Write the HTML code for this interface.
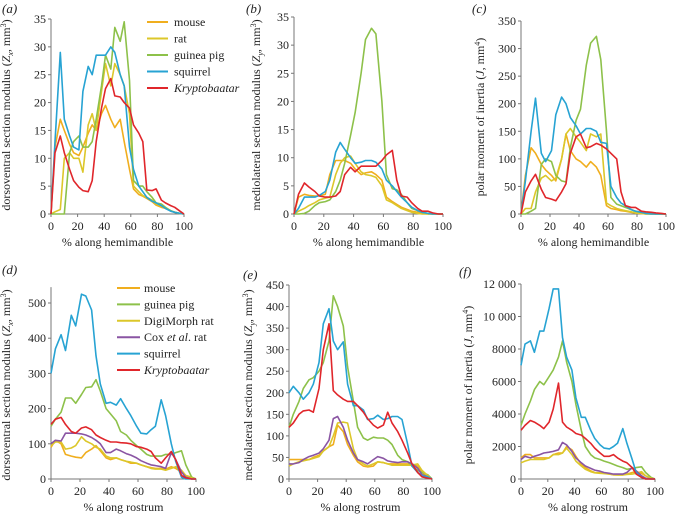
<!DOCTYPE html>
<html><head><meta charset="utf-8"><style>
html,body{margin:0;padding:0;background:#fff}
svg{display:block;font-family:"Liberation Serif","DejaVu Serif",serif}
svg text{font-family:"Liberation Serif","DejaVu Serif",serif}
</style></head><body>
<svg id="c" width="675" height="514" viewBox="0 0 675 514" font-family="Liberation Serif, DejaVu Serif, serif"></svg>
<script>
const X = [0,3,7,10,14,17,21,24,28,31,34,38,41,45,48,52,55,59,62,66,69,72,76,79,83,86,90,93,97,100];
// panel a
const aMouse=[0,12,17,15,12.5,11,10.5,12,14.5,16,15,18,19.5,17,15.5,17,13,8,4.5,3.5,3.2,2.8,2.2,1.6,1.2,1,0.6,0.3,0.1,0];
const aRat=[0,0.4,0.8,10,11,10,10,7.5,16,18,15,22,27,23,27,25,23,18,5,4,3.3,3,2.5,1.8,1.5,1,0.6,0.3,0.1,0];
const aGuinea=[0,0,0,0,11,13,14,12,12,13,17,23,28.5,26,33.5,31,34.5,24,6,5,5,4,3,2,1.8,1.2,0.6,0.3,0.1,0];
const aSquirrel=[0,13,29,17,14,12,11.5,22,26.5,25,28.5,28.5,28.5,30,29,25,23,12,8,5,4,3,2.3,2,1.5,1,0.5,0.3,0.1,0];
const aKryp=[0,11,14,11,8,6,4.8,4.2,4,6,13,19,22.5,24.3,21.2,21,20,19,16,14.5,13,4.3,4.2,4.5,2.5,2,1.5,1.2,0.5,0];
// panel b
const bMouse=[0,3,3.5,3.3,3.2,3.2,3.5,7,9.5,9.5,9.5,9,8,7,7.3,7.5,7,6,3,2.2,1.7,1.2,0.8,0.5,0.3,0.1,0,0,0,0];
const bRat=[0,0.5,1,1.5,2,2.5,2.8,3,7,9,10,10.3,9,7.5,7,6.8,6.5,5,2.5,2,1.5,1,0.6,0.3,0.1,0,0,0,0,0];
const bGuinea=[0,0,0.1,0.5,1.5,2,2.2,2.5,4,6,9,14,18,25,31,33,32,20,7,4.5,4.3,3.5,2,1,0.6,0.3,0.1,0,0,0];
const bSquirrel=[0,1,3,3,3,3.3,4,6,11,12.7,11.5,10,9,9.2,9.5,9.5,9.2,8,6,5,4,3,2,1.2,0.6,0.3,0.1,0,0,0];
const bKryp=[0,3.5,5.5,4.8,4,3.2,3,3,3.2,4,7,8.3,7.5,8.5,8.5,8.5,8.5,9.5,10.5,11.3,6,3.2,3,2,1,0.5,0.5,0.2,0,0];
// panel c
const cMouse=[0,70,120,110,90,80,70,60,100,145,115,100,95,85,95,85,70,15,10,8,6,5,3,2,1,0,0,0,0,0];
const cRat=[0,10,10,40,65,70,60,65,100,145,155,140,130,115,145,140,145,20,15,10,8,6,4,2,1,0,0,0,0,0];
const cGuinea=[0,0,5,10,90,100,95,70,60,58,120,170,190,270,310,322,280,150,30,18,15,12,8,5,3,2,1,0,0,0];
const cSquirrel=[0,60,150,210,110,95,115,180,212,200,175,160,145,155,155,150,130,128,50,30,20,15,8,5,3,1,0,0,0,0];
const cKryp=[0,40,60,72,45,30,27,24,40,55,110,140,145,120,122,128,125,118,110,100,40,15,12,12,5,4,3,2,1,0];
// panel d
const dMouse=[90,110,100,70,65,62,60,75,85,95,80,60,55,60,55,50,45,45,40,35,32,30,30,28,35,30,20,10,5,0];
const dGuinea=[150,170,190,230,230,215,240,260,262,282,250,200,185,165,135,125,110,95,85,70,65,65,65,70,70,75,80,40,5,0];
const dDigi=[95,105,105,85,88,95,120,108,100,90,85,65,60,60,55,50,48,45,40,35,30,28,28,25,30,35,25,10,3,0];
const dCox=[100,110,108,130,130,130,128,125,118,110,100,75,75,85,80,72,68,60,52,45,40,38,35,30,75,55,20,5,0,0];
const dSquirrel=[300,370,410,365,465,435,525,520,480,350,270,215,218,210,228,200,180,150,130,128,140,150,225,180,100,50,5,0,0,0];
const dKryp=[155,170,175,155,135,130,145,148,140,125,118,110,105,105,103,102,100,92,90,85,78,60,45,60,78,55,10,3,0,0];
// panel e
const eMouse=[45,45,45,45,45,50,55,65,75,80,125,110,80,55,40,30,28,30,40,38,35,35,35,35,35,35,30,15,5,0];
const eGuinea=[120,150,180,210,230,235,250,270,320,425,400,355,260,180,120,95,90,97,95,95,90,80,55,45,40,30,20,15,10,0];
const eDigi=[30,35,40,42,45,48,52,65,75,100,130,132,130,70,45,35,30,35,40,38,35,32,32,32,32,32,35,20,8,0];
const eCox=[35,35,38,45,52,55,60,70,90,140,145,120,90,60,45,40,35,45,52,48,42,40,38,40,40,35,25,10,5,0];
const eSquirrel=[200,215,200,185,200,220,270,360,395,320,300,318,220,170,170,160,138,140,148,138,140,145,145,138,80,30,15,8,5,0];
const eKryp=[120,130,150,158,160,155,210,300,360,205,195,185,180,180,170,155,140,125,118,125,155,130,110,90,60,35,15,5,2,0];
// panel f
const fMouse=[1300,1500,1500,1300,1300,1300,1300,1500,1600,1600,2000,1800,1400,900,700,500,400,380,350,300,250,250,250,300,400,450,350,200,50,0];
const fGuinea=[3300,4000,4800,5500,6000,5800,6300,6700,7500,8500,7200,6000,4600,3000,2000,1500,1300,1200,1100,1000,900,800,700,600,650,700,750,400,100,0];
const fDigi=[1000,1100,1200,1200,1200,1200,1300,1500,1500,1600,1900,1500,1100,800,600,450,380,350,330,300,270,250,250,280,300,350,450,200,50,0];
const fCox=[1200,1400,1300,1400,1500,1600,1650,1700,1800,2250,2100,1700,1300,1000,800,650,550,480,400,350,300,300,300,400,700,500,200,50,0,0];
const fSquirrel=[7000,8300,8500,7800,9100,9100,10500,11700,11700,8700,7500,6700,5000,3800,3800,3000,2500,2100,1900,1850,2000,2200,3100,2200,1200,400,100,0,0,0];
const fKryp=[3000,3300,3600,3500,3300,3100,3500,4300,5900,3500,3200,3000,2800,2700,2500,2200,1900,1600,1400,1400,1500,1300,1100,1000,700,300,100,0,0,0];
const xTicks=[0,20,40,60,80,100];
const ticksA=[0,5,10,15,20,25,30,35];
const ticksC=[0,50,100,150,200,250,300,350];
const ticksD=[0,100,200,300,400,500];
const ticksE=[0,50,100,150,200,250,300,350,400,450];
const ticksF=[0,2000,4000,6000,8000,10000,12000];
const tickLabelsF=["0","2000","4000","6000","8000","10 000","12 000"];

const FONT='"Liberation Serif","DejaVu Serif",serif';
const C={mouse:"#f0ae1e",rat:"#dcc72a",guinea:"#8dc14a",squirrel:"#27a3d3",kryp:"#e0262b",cox:"#8a55a3"};
const svg=document.getElementById('c');
const NS="http://www.w3.org/2000/svg";
function mk(tag,attrs,parent){const e=document.createElementNS(NS,tag);for(const k in attrs)e.setAttribute(k,attrs[k]);if(tag==='text'){e.setAttribute('font-family',FONT);e.style.fontFamily=FONT;}(parent||svg).appendChild(e);return e;}

function panel(id,p){
  const g=mk('g',{});
  
  
  const sx=v=>p.x0+(p.x1-p.x0)*v/100;
  const sy=v=>p.y0-(p.y0-p.yT)*v/p.tmax;
  const topY=p.axisTop!==undefined?sy(p.axisTop):sy(p.tmax);
  const ax=mk('line',{x1:p.x0,y1:p.y0,x2:p.x0,y2:topY,stroke:"#777","stroke-width":1},g);
  
  const axx=mk('line',{x1:p.x0,y1:p.y0,x2:p.x1,y2:p.y0,stroke:"#777","stroke-width":1},g);
  
  p.yticks.forEach((t,i)=>{
    mk('line',{x1:p.x0-3,y1:sy(t),x2:p.x0,y2:sy(t),stroke:"#777"},g);
    const tx=mk('text',{x:p.x0-5,y:sy(t)+4,"text-anchor":"end","font-size":12,fill:"#222"},g);
    tx.textContent=p.ylabels?p.ylabels[i]:String(t);
    
  });
  xTicks.forEach(t=>{
    mk('line',{x1:sx(t),y1:p.y0,x2:sx(t),y2:p.y0+3,stroke:"#777"},g);
    const tx=mk('text',{x:sx(t),y:p.y0+16,"text-anchor":"middle","font-size":12,fill:"#222"},g);
    tx.textContent=String(t);
    
  });
  const xt=mk('text',{x:(p.x0+p.x1)/2,y:p.y0+32,"text-anchor":"middle","font-size":12,fill:"#222"},g);
  xt.textContent=p.xtitle;
  
  const yt=mk('text',{x:0,y:0,"text-anchor":"middle","font-size":12,fill:"#222",transform:`translate(${p.ytx},${p.yty}) rotate(-90)`},g);
  yt.innerHTML=p.ytitle;
  
  const lb=mk('text',{x:p.lx,y:p.ly,"font-size":13,"font-style":"italic",fill:"#222"},g);
  lb.textContent='('+id+')';
  
  p.series.forEach(s=>{
    const d=X.map((x,i)=>(i?'L':'M')+sx(x).toFixed(1)+','+sy(s.v[i]).toFixed(1)).join(' ');
    const pa=mk('path',{d:d,fill:"none",stroke:s.c,"stroke-width":1.6,"stroke-linejoin":"round"},g);
    
    
  });
  return g;
}
panel('a',{x0:51,x1:184,y0:214,yT:19,tmax:35,yticks:ticksA,xtitle:"% along hemimandible",ytx:10,yty:115,lx:2,ly:13,
 ytitle:'dorsoventral section modulus (<tspan font-style="italic">Z</tspan><tspan font-style="italic" font-size="8" dy="3">x</tspan><tspan dy="-3">, mm</tspan><tspan font-size="8" dy="-4">3</tspan><tspan dy="4">)</tspan>',
 series:[{n:'mouse',c:C.mouse,v:aMouse},{n:'rat',c:C.rat,v:aRat},{n:'guinea-pig',c:C.guinea,v:aGuinea},{n:'squirrel',c:C.squirrel,v:aSquirrel},{n:'kryptobaatar',c:C.kryp,v:aKryp}]});
panel('b',{x0:294,x1:443,y0:214,yT:17,tmax:35,yticks:ticksA,xtitle:"% along hemimandible",ytx:260,yty:115,lx:246,ly:13,
 ytitle:'mediolateral section modulus (<tspan font-style="italic">Z</tspan><tspan font-style="italic" font-size="8" dy="3">y</tspan><tspan dy="-3">, mm</tspan><tspan font-size="8" dy="-4">3</tspan><tspan dy="4">)</tspan>',
 series:[{n:'mouse',c:C.mouse,v:bMouse},{n:'rat',c:C.rat,v:bRat},{n:'guinea-pig',c:C.guinea,v:bGuinea},{n:'squirrel',c:C.squirrel,v:bSquirrel},{n:'kryptobaatar',c:C.kryp,v:bKryp}]});
panel('c',{x0:521,x1:666,y0:214,yT:21,tmax:350,yticks:ticksC,xtitle:"% along hemimandible",ytx:484,yty:117,lx:472,ly:13,
 ytitle:'polar moment of inertia (<tspan font-style="italic">J</tspan>, mm<tspan font-size="8" dy="-4">4</tspan><tspan dy="4">)</tspan>',
 series:[{n:'mouse',c:C.mouse,v:cMouse},{n:'rat',c:C.rat,v:cRat},{n:'guinea-pig',c:C.guinea,v:cGuinea},{n:'squirrel',c:C.squirrel,v:cSquirrel},{n:'kryptobaatar',c:C.kryp,v:cKryp}]});
panel('d',{x0:51,x1:196,y0:479,yT:303,tmax:500,axisTop:545,yticks:ticksD,xtitle:"% along rostrum",ytx:10,yty:385,lx:2,ly:274,
 ytitle:'dorsoventral section modulus (<tspan font-style="italic">Z</tspan><tspan font-style="italic" font-size="8" dy="3">x</tspan><tspan dy="-3">, mm</tspan><tspan font-size="8" dy="-4">3</tspan><tspan dy="4">)</tspan>',
 series:[{n:'mouse',c:C.mouse,v:dMouse},{n:'guinea-pig',c:C.guinea,v:dGuinea},{n:'digimorph-rat',c:C.rat,v:dDigi},{n:'cox-rat',c:C.cox,v:dCox},{n:'squirrel',c:C.squirrel,v:dSquirrel},{n:'kryptobaatar',c:C.kryp,v:dKryp}]});
panel('e',{x0:289,x1:432,y0:479,yT:285,tmax:450,yticks:ticksE,xtitle:"% along rostrum",ytx:252,yty:385,lx:243,ly:279,
 ytitle:'mediolateral section modulus (<tspan font-style="italic">Z</tspan><tspan font-style="italic" font-size="8" dy="3">y</tspan><tspan dy="-3">, mm</tspan><tspan font-size="8" dy="-4">3</tspan><tspan dy="4">)</tspan>',
 series:[{n:'mouse',c:C.mouse,v:eMouse},{n:'guinea-pig',c:C.guinea,v:eGuinea},{n:'digimorph-rat',c:C.rat,v:eDigi},{n:'cox-rat',c:C.cox,v:eCox},{n:'squirrel',c:C.squirrel,v:eSquirrel},{n:'kryptobaatar',c:C.kryp,v:eKryp}]});
panel('f',{x0:521,x1:655,y0:479,yT:284,tmax:12000,yticks:ticksF,ylabels:tickLabelsF,xtitle:"% along rostrum",ytx:472,yty:385,lx:459,ly:276,
 ytitle:'polar moment of inertia (<tspan font-style="italic">J</tspan>, mm<tspan font-size="8" dy="-4">4</tspan><tspan dy="4">)</tspan>',
 series:[{n:'mouse',c:C.mouse,v:fMouse},{n:'guinea-pig',c:C.guinea,v:fGuinea},{n:'digimorph-rat',c:C.rat,v:fDigi},{n:'cox-rat',c:C.cox,v:fCox},{n:'squirrel',c:C.squirrel,v:fSquirrel},{n:'kryptobaatar',c:C.kryp,v:fKryp}]});

function legend(x1,x2,tx,y,dy,items){
  const g=mk('g',{});
  
  
  items.forEach((it,i)=>{
    const yy=y+i*dy;
    mk('line',{x1:x1,y1:yy,x2:x2,y2:yy,stroke:it[1],"stroke-width":2},g);
    const t=mk('text',{x:tx,y:yy+4,"font-size":12,fill:"#222"},g);
    t.innerHTML=it[0];
    
    
  });
}
legend(147,168,174,22,16.5,[["mouse",C.mouse],["rat",C.rat],["guinea pig",C.guinea],["squirrel",C.squirrel],['<tspan font-style="italic">Kryptobaatar</tspan>',C.kryp]]);
legend(117,140,144,288,16.4,[["mouse",C.mouse],["guinea pig",C.guinea],["DigiMorph rat",C.rat],['Cox <tspan font-style="italic">et al</tspan>. rat',C.cox],["squirrel",C.squirrel],['<tspan font-style="italic">Kryptobaatar</tspan>',C.kryp]]);
</script>
</body></html>
